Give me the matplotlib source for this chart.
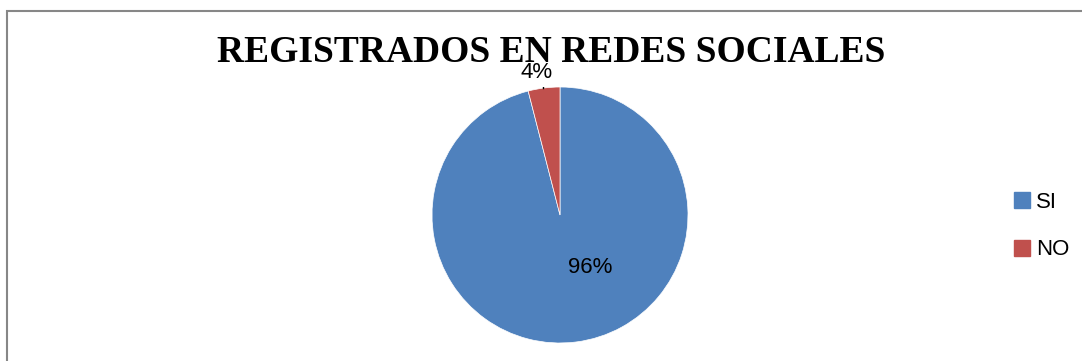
import matplotlib
matplotlib.use('Agg')
import matplotlib.pyplot as plt
from matplotlib.lines import Line2D
from matplotlib.patches import Rectangle

# data
labels = ['SI', 'NO']
values = [96, 4]
colours = ['#4F81BD', '#C0504D']
title = 'REGISTRADOS EN REDES SOCIALES'

W, H = 1082, 361
fig = plt.figure(figsize=(W / 100, H / 100), dpi=100)

# chart border (only left and top are visible in the crop)
fig.patches.append(Rectangle((7 / W, -0.1), 1.2, 1 - 11 / H + 0.1, transform=fig.transFigure,
                             fill=False, edgecolor='#878787', linewidth=1.5))

# pie axes: centre (560, 215), radius 128 px
cx, cy, r = 560, 215, 128
ax = fig.add_axes([(cx - r) / W, 1 - (cy + r) / H, 2 * r / W, 2 * r / H])
wedges, texts, autotexts = ax.pie(values, colors=colours, startangle=90, counterclock=False,
                                  autopct='%1.0f%%', radius=1.0,
                                  wedgeprops=dict(edgecolor='white', linewidth=0.5),
                                  textprops=dict(fontsize=16, family='Liberation Sans'))
ax.set_xlim(-1, 1)
ax.set_ylim(-1, 1)
ax.set_aspect('auto')
ax.axis('off')

# label positions like the excel chart
autotexts[0].set_position((0.234, -0.414))
autotexts[1].set_position((-0.18, 1.11))
ax.plot([-0.13, -0.13], [0.99, 1.0], color='black', linewidth=1)

fig.text(551 / W, 1 - 53 / H, title, ha='center', va='center', fontsize=27,
         fontweight='bold', family='Liberation Serif')

handles = [Line2D([], [], marker='s', linestyle='none', markersize=11,
                  markerfacecolor=c, markeredgecolor=c) for c in colours]
fig.legend(handles, labels, loc='center left', bbox_to_anchor=(1003 / W, 1 - 226 / H),
           frameon=False, prop={'family': 'Liberation Sans', 'size': 16},
           handlelength=0.7, handletextpad=0.3, labelspacing=1.2, borderpad=0)

fig.savefig('out.png', dpi=100)
